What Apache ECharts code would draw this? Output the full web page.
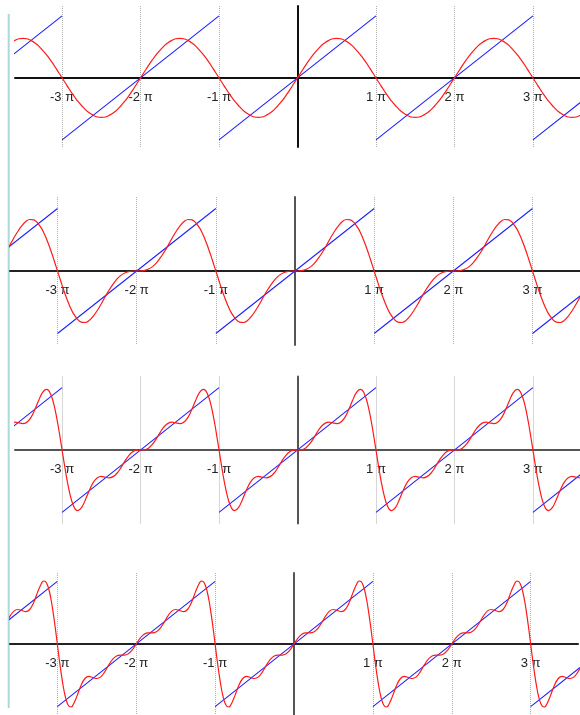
<!DOCTYPE html>
<html>
<head>
<meta charset="utf-8">
<script src="https://cdn.jsdelivr.net/npm/echarts@6/dist/echarts.min.js"></script>
<style>
  html, body { margin: 0; padding: 0; background: #fff; }
  #chart { width: 580px; height: 715px; }
</style>
</head>
<body>
<div id="chart"></div>
<script>
// one period of x, in units of pi (from -pi up to, not including, +pi)
const phase = [-1, -0.975, -0.95, -0.925, -0.9, -0.875, -0.85, -0.825, -0.8, -0.75, -0.7, -0.65,
  -0.6, -0.55, -0.5, -0.45, -0.4, -0.35, -0.3, -0.25, -0.2, -0.15, -0.1, -0.05,
  0, 0.05, 0.1, 0.15, 0.2, 0.25, 0.3, 0.35, 0.4, 0.45, 0.5, 0.55,
  0.6, 0.65, 0.7, 0.75, 0.8, 0.825, 0.85, 0.875, 0.9, 0.925, 0.95, 0.975];

// red curves
const sum1 = [0, -0.16, -0.31, -0.47, -0.62, -0.77, -0.91, -1.05, -1.18, -1.41, -1.62, -1.78,
  -1.90, -1.98, -2.00, -1.98, -1.90, -1.78, -1.62, -1.41, -1.18, -0.91, -0.62, -0.31,
  0, 0.31, 0.62, 0.91, 1.18, 1.41, 1.62, 1.78, 1.90, 1.98, 2.00, 1.98,
  1.90, 1.78, 1.62, 1.41, 1.18, 1.05, 0.91, 0.77, 0.62, 0.47, 0.31, 0.16];
const sum2 = [0, -0.31, -0.62, -0.92, -1.21, -1.47, -1.72, -1.94, -2.13, -2.41, -2.57, -2.59,
  -2.49, -2.28, -2.00, -1.67, -1.31, -0.97, -0.67, -0.41, -0.22, -0.10, -0.03, 0,
  0, 0, 0.03, 0.10, 0.22, 0.41, 0.67, 0.97, 1.31, 1.67, 2.00, 2.28,
  2.49, 2.59, 2.57, 2.41, 2.13, 1.94, 1.72, 1.47, 1.21, 0.92, 0.62, 0.31];
const sum4 = [0, -0.62, -1.22, -1.76, -2.22, -2.59, -2.85, -3.01, -3.05, -2.89, -2.48, -2.01,
  -1.62, -1.40, -1.33, -1.37, -1.40, -1.34, -1.17, -0.89, -0.56, -0.28, -0.09, -0.01,
  0, 0.01, 0.09, 0.28, 0.56, 0.89, 1.17, 1.34, 1.40, 1.37, 1.33, 1.40,
  1.62, 2.01, 2.48, 2.89, 3.05, 3.01, 2.85, 2.59, 2.22, 1.76, 1.22, 0.62];
const sum5 = [0, -0.78, -1.50, -2.13, -2.62, -2.96, -3.13, -3.16, -3.05, -2.60, -2.08, -1.73,
  -1.62, -1.68, -1.73, -1.65, -1.40, -1.06, -0.77, -0.60, -0.56, -0.56, -0.49, -0.30,
  0, 0.30, 0.49, 0.56, 0.56, 0.60, 0.77, 1.06, 1.40, 1.65, 1.73, 1.68,
  1.62, 1.73, 2.08, 2.60, 3.05, 3.16, 3.13, 2.96, 2.62, 2.13, 1.50, 0.78];

// blue sawtooth: one tooth from -pi to pi
const toothX = [-1, 1];
const toothY = [-3.14, 3.14];

// period centres (units of pi) and labelled ticks
const centers = [-4, -2, 0, 2, 4];
const ticks = [-3, -2, -1, 1, 2, 3];

const chart = echarts.init(document.getElementById('chart'), null, { renderer: 'canvas' });

// panel layout / styling
const panels = [
  { left: 15, right: 0,  top: 6,     height: 141, ymin: -3.5,  ymax: 3.64, h: '#111', v: '#111', red: sum1 },
  { left: 10, right: -2, top: 197,   height: 148, ymin: -3.72, ymax: 3.72, h: '#222', v: '#555', red: sum2 },
  { left: 15, right: 0,  top: 376.5, height: 147, ymin: -3.7,  ymax: 3.7,  h: '#555', v: '#555', red: sum4 },
  { left: 10, right: 2,  top: 573,   height: 142, ymin: -3.56, ymax: 3.56, h: '#222', v: '#555', red: sum5 }
];

function tile(ys) {
  const out = [];
  centers.forEach(c => {
    phase.forEach((p, i) => out.push([c + p, ys[i]]));
  });
  return out;
}

function saw() {
  const out = [];
  centers.forEach(c => {
    out.push([c + toothX[0], toothY[0]]);
    out.push([c + toothX[1], toothY[1]]);
    out.push([c + toothX[1], null]);
  });
  return out;
}

const grid = [], xAxis = [], yAxis = [], series = [];
panels.forEach((p, i) => {
  grid.push({ left: p.left, right: p.right, top: p.top, height: p.height });
  // x axis sits at y = 0: lift it from the grid bottom
  const lift = p.height * (0 - p.ymin) / (p.ymax - p.ymin);
  xAxis.push({
    type: 'value', gridIndex: i, min: -3.6, max: 3.6,
    position: 'bottom', offset: -lift,
    axisLine: { onZero: false, lineStyle: { color: p.h, width: 2 } },
    axisTick: { show: false, customValues: ticks },
    axisLabel: {
      customValues: ticks, margin: 13, color: '#222', fontSize: 13,
      fontFamily: 'Liberation Sans, Arial, sans-serif',
      formatter: v => v + ' π'
    },
    splitLine: { show: true, lineStyle: { color: '#b0b0b0', width: 1, type: [1, 1] } }
  });
  yAxis.push({
    type: 'value', gridIndex: i, min: p.ymin, max: p.ymax,
    axisLine: { show: true, onZero: true, lineStyle: { color: p.v, width: 2 } },
    axisTick: { show: false },
    axisLabel: { show: false },
    splitLine: { show: false }
  });
  series.push({
    type: 'line', xAxisIndex: i, yAxisIndex: i, data: saw(),
    symbol: 'none', connectNulls: false,
    lineStyle: { color: '#1f1fff', width: 1.1 }
  });
  series.push({
    type: 'line', xAxisIndex: i, yAxisIndex: i, data: tile(p.red),
    symbol: 'none', smooth: 0.4,
    lineStyle: { color: '#ff1a1a', width: 1.2 }
  });
});

chart.setOption({
  animation: false,
  grid, xAxis, yAxis, series,
  graphic: [{
    type: 'line', shape: { x1: 8.7, y1: 14, x2: 8.7, y2: 708 },
    style: { stroke: '#acd9dc', lineWidth: 2 }
  }]
});
</script>
</body>
</html>
